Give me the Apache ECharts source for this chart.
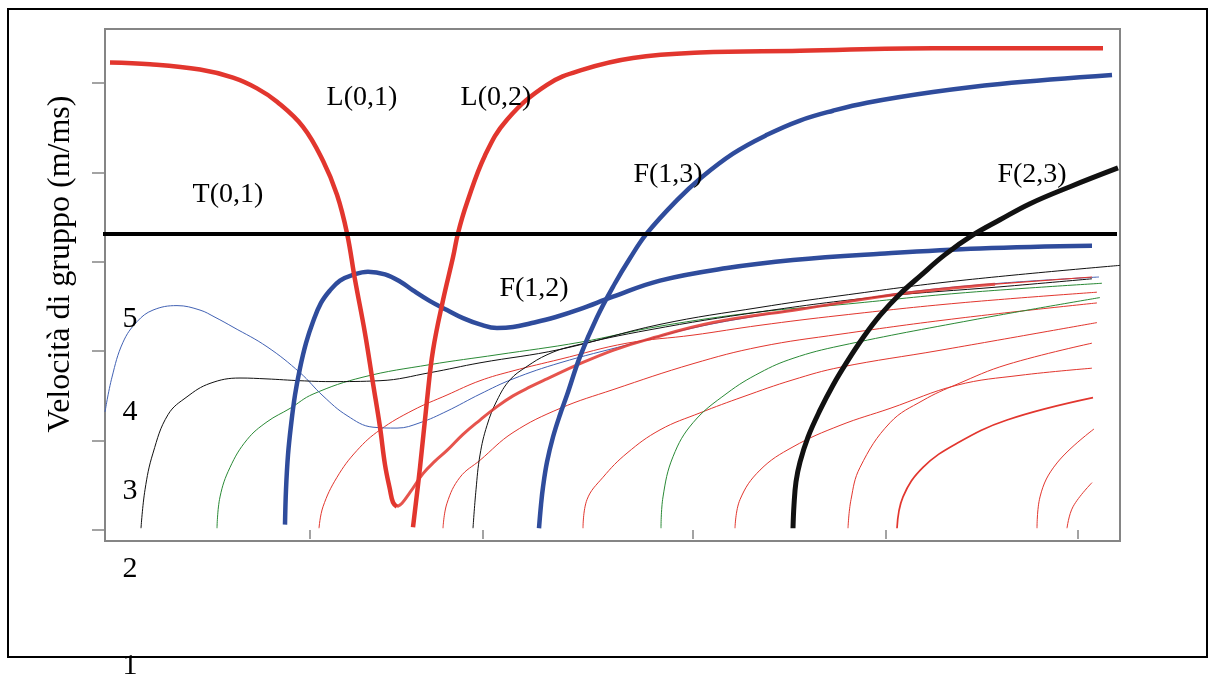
<!DOCTYPE html>
<html>
<head>
<meta charset="utf-8">
<script src="https://cdn.jsdelivr.net/npm/echarts@6/dist/echarts.min.js"></script>
<style>
html,body{margin:0;padding:0;background:#fff;}
#c{width:1209px;height:677px;}
</style>
</head>
<body>
<div id="c"></div>
<script>
// ---- data (x: frequency units, y: group velocity m/ms) ----
const yTickValues = [0, 1, 2, 3, 4, 5];
const xTickValues = [20.5, 37.8, 58.8, 78.1, 97.3];
const yTickLabels = ['5', '4', '3', '2', '1'];
const curveLabels = ['L(0,1)', 'L(0,2)', 'T(0,1)', 'F(1,3)', 'F(2,3)', 'F(1,2)'];
const yAxisTitle = 'Velocità di gruppo (m/ms)';

const L01a = [[0.5,5.23],[4.5,5.21],[9.5,5.15],[12.8,5.06],[15.2,4.94],[17.2,4.79],[19.8,4.51],[21.8,4.13],[23.2,3.75],[24.2,3.32],[25.0,2.80],[26.0,2.20],[26.8,1.64],[27.5,1.15],[28.0,0.73],[28.5,0.45],[28.8,0.31],[29.2,0.26]];
const L01b = [[29.2,0.26],[29.7,0.30],[30.5,0.42],[31.8,0.63],[33.0,0.77],[34.2,0.89],[35.8,1.07],[37.5,1.23],[39.2,1.38],[40.8,1.50],[42.5,1.60],[44.2,1.69],[47.5,1.86],[50.8,2.01],[54.2,2.13],[60.8,2.32],[69.5,2.47],[80.2,2.65],[89.0,2.75]];
const L01c = [[89.0,2.75],[98.7,2.83]];
const L02 = [[30.8,0.03],[31.5,0.70],[32.2,1.45],[32.8,2.01],[33.8,2.57],[34.8,3.05],[35.3,3.32],[36.2,3.66],[38.0,4.19],[40.2,4.59],[44.2,4.98],[47.8,5.15],[52.8,5.28],[59.5,5.34],[69.5,5.36],[82.8,5.39],[99.8,5.39]];
const T01 = [[-0.6,3.31],[101.2,3.31]];
const F12 = [[18.0,0.06],[18.1,0.45],[18.3,0.84],[18.6,1.17],[19.0,1.51],[19.5,1.81],[20.1,2.09],[20.8,2.33],[21.6,2.54],[22.5,2.68],[23.5,2.79],[24.7,2.85],[26.3,2.89],[28.0,2.86],[29.5,2.78],[30.8,2.68],[32.5,2.56],[34.2,2.46],[35.8,2.37],[37.5,2.30],[39.2,2.26],[40.8,2.27],[42.5,2.31],[45.0,2.38],[47.5,2.47],[50.8,2.61],[55.5,2.79],[62.2,2.93],[68.8,3.02],[77.5,3.09],[87.5,3.15],[98.7,3.18]];
const F13 = [[43.4,0.02],[43.6,0.28],[43.8,0.48],[44.2,0.76],[44.8,1.04],[45.5,1.29],[46.2,1.51],[47.5,1.94],[49.2,2.38],[51.0,2.76],[52.5,3.04],[54.2,3.32],[57.2,3.69],[59.5,3.93],[62.8,4.21],[66.2,4.42],[69.5,4.58],[72.8,4.69],[76.2,4.78],[82.8,4.90],[89.5,4.99],[100.7,5.09]];
const F23 = [[68.8,0.02],[68.9,0.28],[69.1,0.54],[69.5,0.76],[70.3,1.04],[71.5,1.34],[72.8,1.62],[74.2,1.88],[75.8,2.15],[77.5,2.40],[79.5,2.64],[81.5,2.84],[84.0,3.08],[86.8,3.30],[89.5,3.47],[92.5,3.65],[96.5,3.84],[101.3,4.05]];
const F11 = [[0.0,1.32],[0.7,1.71],[1.8,2.10],[3.2,2.33],[4.8,2.46],[7.2,2.51],[9.5,2.46],[11.0,2.38],[12.8,2.27],[16.2,2.05],[19.5,1.76],[21.8,1.50],[24.2,1.28],[26.8,1.15],[29.2,1.14],[31.5,1.20],[34.2,1.33],[37.5,1.52],[40.8,1.69],[45.5,1.87],[52.2,2.07],[58.8,2.26],[65.5,2.40],[73.5,2.54],[80.2,2.66],[89.5,2.76],[99.4,2.83]];
const blk1 = [[3.6,0.02],[4.0,0.45],[4.8,0.86],[6.3,1.29],[8.2,1.49],[10.5,1.64],[13.5,1.70],[16.2,1.69],[19.5,1.67],[22.5,1.66],[27.5,1.67],[32.5,1.76],[37.5,1.87],[45.5,2.02],[55.5,2.30],[65.5,2.49],[73.5,2.62],[85.5,2.79],[101.5,2.96]];
const blk2 = [[36.8,0.02],[37.1,0.45],[37.5,0.84],[38.2,1.17],[39.2,1.45],[40.5,1.68],[42.2,1.83],[44.2,1.96],[46.5,2.05],[54.5,2.24],[65.5,2.44],[77.5,2.61],[89.5,2.72],[98.7,2.81]];
const grn1 = [[11.2,0.02],[11.5,0.37],[12.5,0.70],[14.2,1.01],[16.2,1.21],[18.5,1.36],[20.8,1.52],[25.8,1.71],[32.5,1.85],[39.2,1.96],[47.5,2.10],[55.5,2.28],[65.5,2.44],[73.5,2.52],[85.5,2.65],[99.7,2.76]];
const grn2 = [[55.6,0.02],[55.8,0.37],[56.8,0.82],[58.8,1.20],[62.2,1.53],[65.5,1.76],[68.8,1.92],[73.5,2.06],[86.8,2.35],[99.5,2.60]];
const red1 = [[21.4,0.02],[21.8,0.26],[23.2,0.59],[25.2,0.89],[27.5,1.12],[30.8,1.34],[34.2,1.51],[37.5,1.67],[40.8,1.78],[45.5,1.91],[52.2,2.09],[58.8,2.18],[65.5,2.29],[73.5,2.40],[85.5,2.54],[99.2,2.66]];
const red2 = [[33.8,0.02],[34.2,0.30],[35.5,0.59],[37.5,0.78],[40.8,1.09],[45.5,1.36],[50.8,1.57],[58.8,1.86],[65.5,2.05],[73.5,2.19],[85.5,2.37],[99.2,2.54]];
const red3 = [[47.8,0.02],[48.2,0.34],[49.8,0.59],[52.2,0.86],[55.5,1.12],[59.5,1.31],[63.8,1.49],[68.8,1.68],[73.5,1.82],[83.5,2.01],[99.2,2.32]];
const red4 = [[63.0,0.02],[63.5,0.34],[65.5,0.67],[68.8,0.93],[73.5,1.17],[78.5,1.36],[85.2,1.62],[91.5,1.73],[98.7,1.81]];
const red5 = [[74.3,0.02],[74.6,0.34],[75.5,0.70],[78.5,1.20],[81.8,1.45],[85.2,1.63],[90.2,1.85],[98.7,2.09]];
const red6 = [[79.2,0.02],[79.8,0.37],[81.8,0.70],[85.2,0.97],[90.2,1.23],[98.8,1.48]];
const red7 = [[93.2,0.02],[93.5,0.37],[95.2,0.75],[98.9,1.13]];
const red8 = [[96.2,0.02],[96.8,0.26],[98.7,0.53]];

// ---- styles ----
const RED = '#e2362e', BLUE = '#2f4c9c', BLUE_T = '#4262b4', GREEN = '#2a8a36', BLACK = '#111111';
const FONT = '"Liberation Serif", "DejaVu Serif", serif';

function line(data, color, width, extra) {
  return Object.assign({
    type: 'line', data: data, showSymbol: false, symbol: 'none', smooth: 0.4,
    clip: false, silent: true,
    lineStyle: { color: color, width: width, cap: 'butt', join: 'round' }
  }, extra || {});
}

const chart = echarts.init(document.getElementById('c'), null, { renderer: 'canvas' });

const labelPos = [[362, 98], [496, 98], [228, 195], [668, 175], [1032, 175], [534, 289]];
const tickLabelPos = [[130, 319], [130, 412], [130, 491], [130, 569], [130, 666]];

const graphics = [
  { type: 'rect', shape: { x: 8, y: 9, width: 1199, height: 648 }, style: { fill: null, stroke: '#000', lineWidth: 2 }, z: 0 },
  { type: 'text', x: 61, y: 264, rotation: Math.PI / 2,
    style: { text: yAxisTitle, font: '32px ' + FONT, fill: '#000', textAlign: 'center', textVerticalAlign: 'middle' } }
];
curveLabels.forEach((t, i) => graphics.push({ type: 'text', x: labelPos[i][0], y: labelPos[i][1], z: 100,
  style: { text: t, font: '28px ' + FONT, fill: '#000', textAlign: 'center', textVerticalAlign: 'middle' } }));
yTickLabels.forEach((t, i) => graphics.push({ type: 'text', x: tickLabelPos[i][0], y: tickLabelPos[i][1], z: 100,
  style: { text: t, font: '30px ' + FONT, fill: '#000', textAlign: 'center', textVerticalAlign: 'middle' } }));

chart.setOption({
  animation: false,
  backgroundColor: '#fff',
  grid: { left: 105, top: 29, right: 89, bottom: 136, show: true, borderColor: '#858585', borderWidth: 2, backgroundColor: 'transparent' },
  xAxis: {
    type: 'value', min: 0, max: 101.5,
    axisLine: { show: false },
    axisTick: { show: true, length: 9, customValues: xTickValues, lineStyle: { color: '#858585', width: 1.5 } },
    axisLabel: { show: false },
    splitLine: { show: false }
  },
  yAxis: {
    type: 'value', min: -0.123, max: 5.604,
    axisLine: { show: false },
    axisTick: { show: true, length: 13, customValues: yTickValues, lineStyle: { color: '#858585', width: 1.5 } },
    axisLabel: { show: false },
    splitLine: { show: false }
  },
  graphic: graphics,
  series: [
    line(red8, RED, 1),
    line(red7, RED, 1),
    line(red6, RED, 1.7),
    line(red5, RED, 1),
    line(red4, RED, 1),
    line(red3, RED, 1),
    line(red2, RED, 1),
    line(red1, RED, 1),
    line(grn2, GREEN, 1),
    line(grn1, GREEN, 1),
    line(F11, BLUE_T, 1),
    line(blk2, BLACK, 1),
    line(blk1, BLACK, 1),
    line(L01c, RED, 1.2),
    line(L01b, RED, 3, { lineStyle: { color: RED, width: 3, opacity: 0.85 } }),
    line(F12, BLUE, 4.5),
    line(F13, BLUE, 4.5),
    line(L01a, RED, 4.5),
    line(L02, RED, 4.5),
    line(T01, '#000', 4, { smooth: false }),
    line(F23, BLACK, 5)
  ]
});
</script>
</body>
</html>
